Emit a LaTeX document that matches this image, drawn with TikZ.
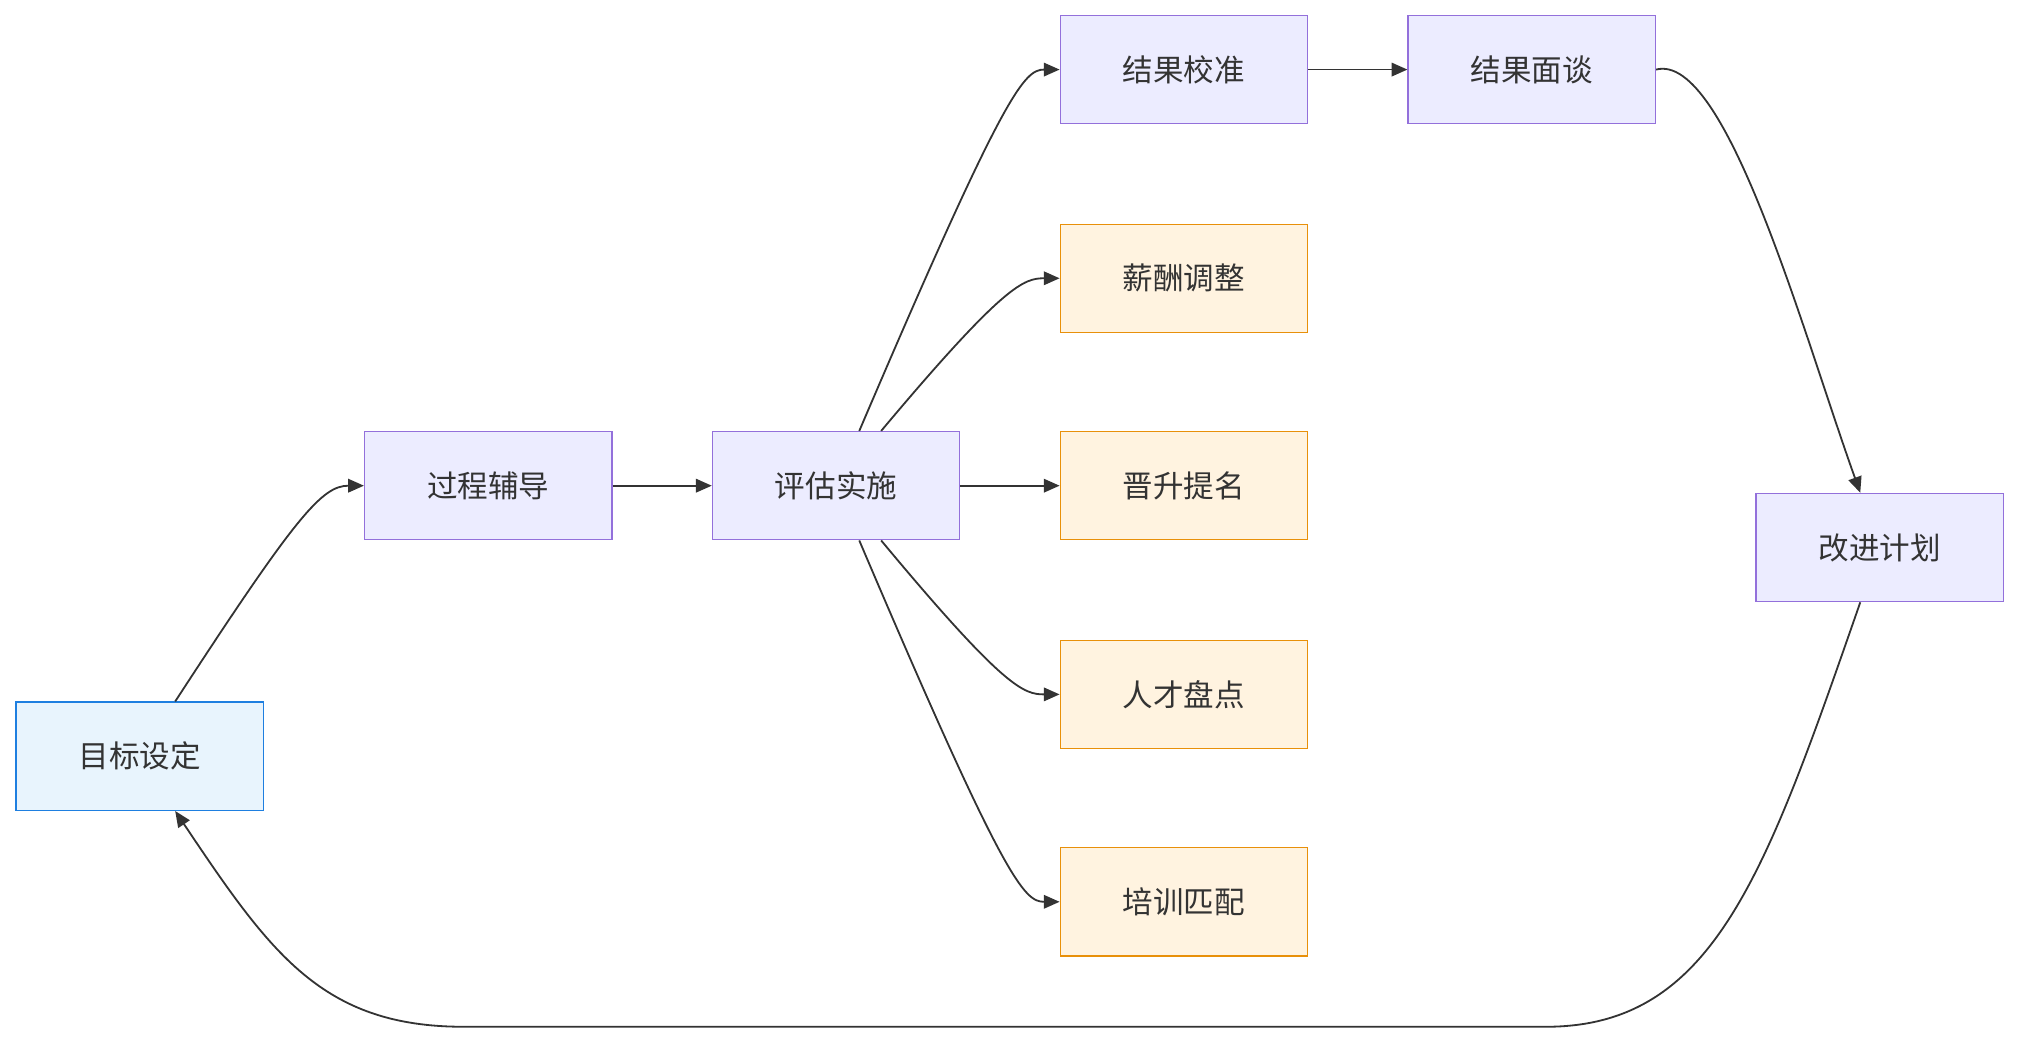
\documentclass[tikz,border=0pt]{standalone}
\usepackage{fontspec}
\setmainfont{Noto Sans CJK SC}
\usetikzlibrary{arrows.meta}
\definecolor{pf}{HTML}{ECECFF}\definecolor{pd}{HTML}{9370DB}
\definecolor{of}{HTML}{FFF3E0}\definecolor{od}{HTML}{E8900A}
\definecolor{bf}{HTML}{E8F4FD}\definecolor{bd}{HTML}{1E7FE0}
\definecolor{tx}{HTML}{333333}
\begin{document}
\begin{tikzpicture}[x=0.02cm,y=-0.02cm,
 box/.style={draw=pd,fill=pf,minimum width=3.84cm,minimum height=1.68cm,inner sep=0pt,text=tx,font=\fontsize{13.5pt}{16pt}\selectfont,line width=0.6pt},
 obox/.style={box,draw=od,fill=of},
 bbox/.style={box,draw=bd,fill=bf},
 arr/.style={draw=tx,line width=0.8pt,-{Triangle[length=7pt,width=6pt]}}]
\useasboundingbox (0,0) rectangle (1568,809);
\node[bbox] (a) at (108.5,587) {目标设定};
\node[box] (b) at (379,377) {过程辅导};
\node[box] (c) at (649,377) {评估实施};
\node[box] (d) at (919,54) {结果校准};
\node[obox] (e) at (919,216) {薪酬调整};
\node[obox] (f) at (919,377) {晋升提名};
\node[obox] (g) at (919,539) {人才盘点};
\node[obox] (h) at (919,700) {培训匹配};
\node[box] (i) at (1189,54) {结果面谈};
\node[box] (j) at (1459,425) {改进计划};
\coordinate (l1) at (1200,797);\coordinate (l2) at (360,797);
\draw[arr] ([xshift=0.55cm]a.north) .. controls (230,400) and (250,377) .. (b.west);
\draw[arr] (b) -- (c);
\draw[arr] ([xshift=0.36cm]c.north) .. controls (780,70) and (795,54) .. (d.west);
\draw[arr] ([xshift=0.7cm]c.north) .. controls (780,220) and (795,216) .. (e.west);
\draw[arr] (c) -- (f);
\draw[arr] ([xshift=0.7cm]c.south) .. controls (780,535) and (795,539) .. (g.west);
\draw[arr] ([xshift=0.36cm]c.south) .. controls (780,685) and (795,700) .. (h.west);
\draw[arr] (d) -- (i);
\draw[arr] (i.east) .. controls (1340,40) and (1400,260) .. ([xshift=-0.3cm]j.north);
\draw[arr] ([xshift=-0.3cm]j.south) .. controls (1370,680) and (1330,797) .. (l1) -- (l2) .. controls (250,797) and (210,740) .. ([xshift=0.55cm]a.south);
\end{tikzpicture}
\end{document}
